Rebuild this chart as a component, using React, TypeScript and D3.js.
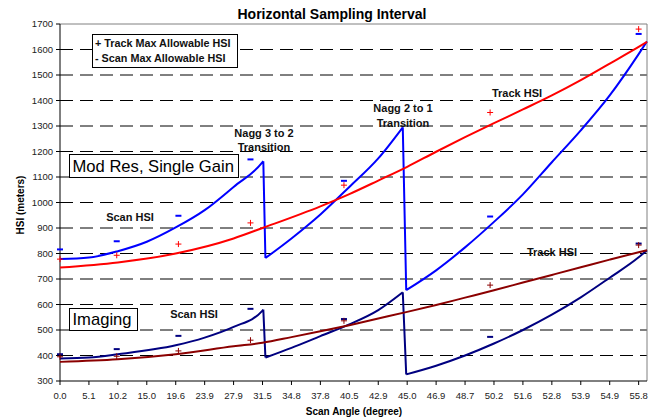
import React from "react";
import * as d3 from "d3";

// x axis: scan angle labels, equally spaced along the scan
const xTickLabels = ["0.0", "5.1", "10.2", "15.0", "19.6", "23.9", "27.9", "31.5", "34.8", "37.8", "40.5",
  "42.9", "45.0", "46.9", "48.7", "50.2", "51.6", "52.8", "53.9", "54.9", "55.8"];
const xTickAngles = xTickLabels.map(Number);
const scanEdge = 56.06;
const yTicks = [300, 400, 500, 600, 700, 800, 900, 1000, 1100, 1200, 1300, 1400, 1500, 1600, 1700];

// Mod Res, single gain
const modResTrackAngles = [0, 10.2, 19.6, 27.9, 31.5, 37.8, 40.5, 42.9, 45.0, 46.9, 48.7, 50.2, 51.6, 52.8, 53.9, 54.9, 55.8, 56.06];
const modResTrackHsi = [745, 765, 800, 859, 900, 985, 1033, 1086, 1140, 1199, 1256, 1311, 1365, 1420, 1480, 1545, 1610, 1630];
const modResScanAngles = [0, 5.1, 10.2, 15.0, 19.6, 23.9, 27.9, 31.5, 31.59, 31.83, 34.8, 37.8, 40.5, 42.9, 44.68,
  44.93, 46.9, 48.7, 50.2, 51.6, 52.8, 53.9, 54.9, 55.8, 56.06];
const modResScanHsi = [778, 784, 809, 846, 902, 970, 1061, 1158, 1162, 782, 859, 953, 1061, 1173, 1295,
  656, 734, 824, 924, 1032, 1158, 1283, 1420, 1582, 1632];

// Imaging
const imgTrackAngles = [0, 10.2, 19.6, 27.9, 31.5, 34.8, 37.8, 40.5, 42.9, 45.0, 46.9, 48.7, 50.2, 51.6, 52.8, 53.9, 54.9, 55.8, 56.06];
const imgTrackHsi = [375, 385, 405, 436, 450, 472, 495, 519, 545, 571, 598, 627, 656, 686, 716, 746, 776, 805, 813];
const imgScanAngles = [0, 5.1, 10.2, 19.6, 23.9, 27.9, 31.5, 31.59, 31.83, 34.8, 37.8, 40.5, 42.9, 44.68,
  44.93, 46.9, 48.7, 50.2, 51.6, 52.8, 53.9, 54.9, 55.8, 56.06];
const imgScanHsi = [388, 392, 405, 440, 470, 512, 576, 580, 392, 430, 476, 522, 578, 648,
  326, 360, 400, 447, 500, 560, 628, 705, 785, 813];

// max allowable HSI markers
const markerAngles = [0, 10, 20, 30, 40, 50, 55.8];
const modResTrackMax = [778, 793, 837, 920, 1068, 1353, 1680];
const modResScanMax = [816, 848, 948, 1169, 1085, 945, 1661];
const imgTrackMax = [395, 397, 418, 460, 536, 676, 833];
const imgScanMax = [405, 425, 477, 583, 543, 473, 839];

const W = 659;
const H = 419;
const left = 60, right = 647, top = 24, bottom = 381;
const font = "'Liberation Sans', Arial, sans-serif";

const angleToIndex = d3.scaleLinear().domain(xTickAngles).range(xTickAngles.map((_, i) => i));
const x = d3.scaleLinear().domain([0, angleToIndex(scanEdge)]).range([left, right]);
const xa = (a: number) => x(angleToIndex(a));
const y = d3.scaleLinear().domain([300, 1700]).range([bottom, top]);

type Pt = [number, number];
const smooth = d3.line<Pt>().x(d => xa(d[0])).y(d => y(d[1])).curve(d3.curveMonotoneX);

// split a sawtooth series at its drops, smooth each zone, straight line across the drop
function sawPath(angles: number[], values: number[]) {
  const pts: Pt[] = angles.map((a, i) => [a, values[i]]);
  const zones: Pt[][] = [[pts[0]]];
  for (let i = 1; i < pts.length; i++) {
    if (pts[i][1] < pts[i - 1][1] - 100) zones.push([]);
    zones[zones.length - 1].push(pts[i]);
  }
  let d = "";
  zones.forEach((z, i) => {
    d += smooth(z);
    if (i < zones.length - 1) {
      const a = z[z.length - 1], b = zones[i + 1][0];
      d += `M${xa(a[0])},${y(a[1])}L${xa(b[0])},${y(b[1])}`;
    }
  });
  return d;
}

function Plus({ a, v, color }: { a: number; v: number; color: string }) {
  const cx = xa(a), cy = y(v);
  return <path d={`M${cx - 3},${cy}H${cx + 3}M${cx},${cy - 3}V${cy + 3}`} stroke={color} strokeWidth={1} />;
}

function Dash({ a, v, color }: { a: number; v: number; color: string }) {
  const cx = xa(a), cy = y(v);
  return <path d={`M${cx - 3},${cy}H${cx + 3}`} stroke={color} strokeWidth={2} />;
}

export default function App() {
  const red = "#ff0000", blue = "#0000ff", navy = "#000080", darkRed = "#8b0000";
  return (
    <svg width={W} height={H} style={{ position: "absolute", left: 0, top: 0, background: "#fff" }} fontFamily={font}>
      <rect width={W} height={H} fill="#fff" />
      {/* gridlines */}
      {yTicks.filter(v => v > 300 && v < 1700).map(v => (
        <line key={v} x1={left} x2={right} y1={y(v)} y2={y(v)} stroke="#000" strokeDasharray="13,7" strokeWidth={1} />
      ))}
      <line x1={left} x2={right} y1={top} y2={top} stroke="#808080" />
      <line x1={right} x2={right} y1={top} y2={bottom} stroke="#808080" />
      {/* axes */}
      <line x1={left} x2={left} y1={top} y2={bottom} stroke="#000" />
      <line x1={left} x2={right} y1={bottom} y2={bottom} stroke="#000" />
      {yTicks.map(v => (
        <g key={v}>
          <line x1={left - 4} x2={left} y1={y(v)} y2={y(v)} stroke="#000" />
          <text x={53} y={y(v)} dy="0.35em" textAnchor="end" fontSize={9.5} fill="#222">{v}</text>
        </g>
      ))}
      {xTickAngles.map((a, i) => (
        <g key={i}>
          <line x1={xa(a)} x2={xa(a)} y1={bottom} y2={bottom + 4} stroke="#000" />
          <text x={xa(a)} y={398.5} textAnchor="middle" fontSize={9.5} fill="#222">{xTickLabels[i]}</text>
        </g>
      ))}

      {/* curves */}
      <path d={sawPath(modResScanAngles, modResScanHsi)} fill="none" stroke={blue} strokeWidth={2} />
      <path d={smooth(modResTrackAngles.map((a, i) => [a, modResTrackHsi[i]] as Pt)) || ""} fill="none" stroke={red} strokeWidth={2} />
      <path d={sawPath(imgScanAngles, imgScanHsi)} fill="none" stroke={navy} strokeWidth={2} />
      <path d={smooth(imgTrackAngles.map((a, i) => [a, imgTrackHsi[i]] as Pt)) || ""} fill="none" stroke={darkRed} strokeWidth={2} />

      {/* markers */}
      {markerAngles.map((a, i) => (
        <g key={i}>
          <Dash a={a} v={modResScanMax[i]} color={blue} />
          <Plus a={a} v={modResTrackMax[i]} color={red} />
          <Dash a={a} v={imgScanMax[i]} color={navy} />
          <Plus a={a} v={imgTrackMax[i]} color={darkRed} />
        </g>
      ))}

      {/* annotations */}
      <g fontWeight="bold" fontSize={11} textAnchor="middle" fill="#111">
        <text x={264} y={136.5}>Nagg 3 to 2</text>
        <text x={264} y={150.5}>Transition</text>
        <text x={403} y={112}>Nagg 2 to 1</text>
        <text x={403} y={126.5}>Transition</text>
        <text x={517} y={97}>Track HSI</text>
        <text x={130} y={221}>Scan HSI</text>
        <text x={194} y={318}>Scan HSI</text>
        <text x={552} y={255.5}>Track HSI</text>
      </g>

      {/* legend */}
      <rect x={92.5} y={34.5} width={145} height={33} fill="#fff" stroke="#000" />
      <g fontWeight="bold" fontSize={10.8} fill="#111">
        <text x={95} y={46.5}>+ Track Max Allowable HSI</text>
        <text x={95} y={61.5}>- Scan Max Allowable HSI</text>
      </g>

      {/* mode boxes */}
      <rect x={69.5} y={154.5} width={169} height={23} fill="#fff" stroke="#000" />
      <text x={72.5} y={171.5} fontSize={16.6} fill="#000">Mod Res, Single Gain</text>
      <rect x={69.5} y={308.5} width={68} height={22} fill="#fff" stroke="#000" />
      <text x={72.5} y={325} fontSize={16.6} fill="#000">Imaging</text>

      {/* titles */}
      <text x={332} y={18.5} textAnchor="middle" fontWeight="bold" fontSize={14} fill="#000">Horizontal Sampling Interval</text>
      <text x={354} y={415} textAnchor="middle" fontWeight="bold" fontSize={10} fill="#000">Scan Angle (degree)</text>
      <text transform="translate(24,205) rotate(-90)" textAnchor="middle" fontWeight="bold" fontSize={10} fill="#000">HSI (meters)</text>
    </svg>
  );
}
